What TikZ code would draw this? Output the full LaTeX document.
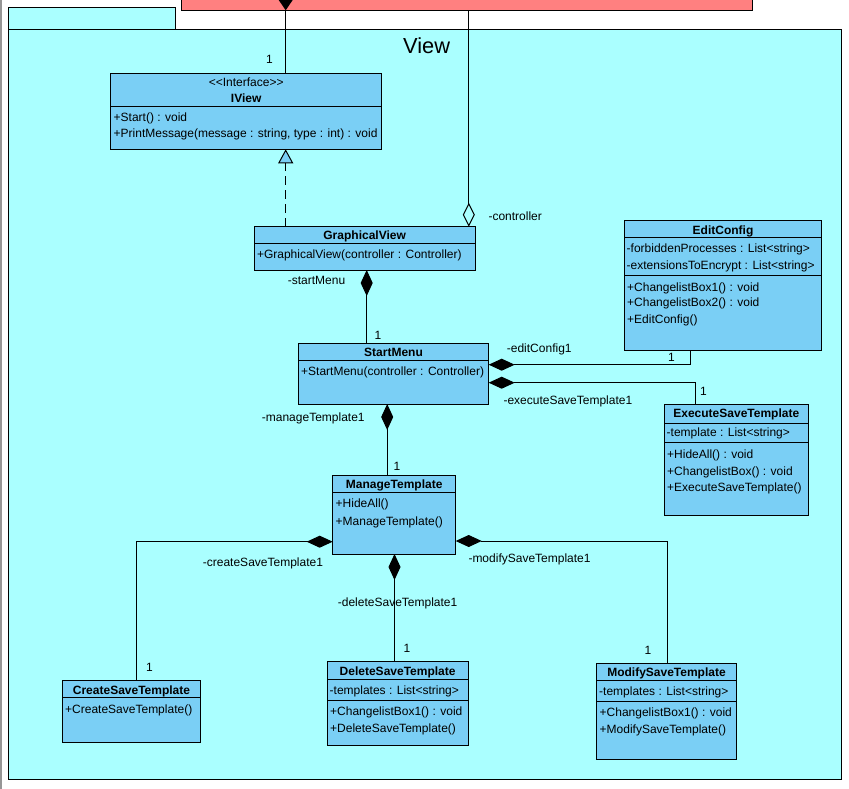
\documentclass[tikz,border=0pt]{standalone}
\usepackage{fontspec}
\setmainfont{Liberation Sans}
\usetikzlibrary{arrows.meta}

\definecolor{pkgfill}{RGB}{170,255,255}
\definecolor{clsfill}{RGB}{122,207,245}
\definecolor{ownerfill}{RGB}{255,128,128}
\definecolor{edgegray}{RGB}{150,150,150}

\tikzset{
  frame/.style={draw, line width=1pt, inner sep=0, outer sep=0},
  clsbox/.style={frame, fill=clsfill},
  mem/.style={anchor=base west, inner sep=0, font=\fontsize{12}{14}\selectfont},
  hdr/.style={anchor=base, inner sep=0, font=\fontsize{12}{14}\selectfont\bfseries},
  stereo/.style={anchor=base, inner sep=0, font=\fontsize{12}{14}\selectfont},
  role/.style={anchor=base west, inner sep=0, font=\fontsize{12}{14}\selectfont},
  link/.style={line width=1pt},
  comp/.style={link, {Diamond[length=26pt,width=12pt]}-},
  aggr/.style={link, {Diamond[open,length=24pt,width=12pt]}-},
  realize/.style={link, dash pattern=on 9pt off 5pt,
    -{Triangle[open,fill=clsfill,length=14pt,width=15pt]}},
}

% class box from its left, top, right and bottom edges
\newcommand\clsnode[5]{%
  \node[clsbox, minimum width={#4-#2}, minimum height={#5-#3}]
    (#1) at ({(#2+#4)/2},{(#3+#5)/2}) {};}
% compartment separator across a class box
\newcommand\clssep[2]{\draw[line width=1pt] (#1.west |- 0,#2) -- (#1.east |- 0,#2);}

\begin{document}
\begin{tikzpicture}[x=1pt,y=-1pt]
\useasboundingbox (0,0) rectangle (849,789);
\fill[edgegray] (0,0) rectangle (2,789);

% owning package above (only its lower edge shows)
\node[frame, fill=ownerfill, minimum width=571, minimum height=40.3]
  (owner) at (466.5,-9.85) {};

% package View
\node[frame, fill=pkgfill, minimum width=167, minimum height=22] (pkgtab) at (91.5,19) {};
\node[frame, fill=pkgfill, minimum width=833.5, minimum height=749] (pkgbody) at (424.75,404.5) {};
\node[anchor=base west, inner sep=0, font=\fontsize{21.8}{24}\selectfont] (pkgname) at (403,53.3) {View};

% IView
\clsnode{iview}{110.7}{73.3}{381.7}{149.3}
\node[stereo] (iview-st) at (246.2,87) {<{}<Interface>{}>};
\node[hdr] (iview-h) at (246.2,102.7) {IView};
\clssep{iview}{106.7}
\node[mem] (iview-o1) at (113.5,122) {+Start() : void};
\node[mem] (iview-o2) at (113.5,138) {+PrintMessage(message : string, type : int) : void};

% GraphicalView
\clsnode{gview}{254}{226.7}{475.3}{270}
\node[hdr] (gview-h) at (364.65,239.3) {GraphicalView};
\clssep{gview}{243.3}
\node[mem] (gview-o1) at (256.8,258.3) {+GraphicalView(controller : Controller)};

% EditConfig
\clsnode{editconfig}{624.3}{220.7}{821.7}{350}
\node[hdr] (ec-h) at (723,234) {EditConfig};
\clssep{editconfig}{237.7}
\node[mem] (ec-a1) at (626.5,252.7) {-forbiddenProcesses : List<string>};
\node[mem] (ec-a2) at (626.5,269) {-extensionsToEncrypt : List<string>};
\clssep{editconfig}{275.7}
\node[mem] (ec-o1) at (627,291) {+ChangelistBox1() : void};
\node[mem] (ec-o2) at (627,306.7) {+ChangelistBox2() : void};
\node[mem] (ec-o3) at (627,323.3) {+EditConfig()};

% StartMenu
\clsnode{startmenu}{298.3}{343.3}{488.7}{404}
\node[hdr] (sm-h) at (393.5,356.7) {StartMenu};
\clssep{startmenu}{360.7}
\node[mem] (sm-o1) at (301,375.7) {+StartMenu(controller : Controller)};

% ExecuteSaveTemplate
\clsnode{execsave}{664.3}{404.3}{808.3}{515}
\node[hdr] (es-h) at (736.3,417.7) {ExecuteSaveTemplate};
\clssep{execsave}{423.3}
\node[mem] (es-a1) at (666.5,436.7) {-template : List<string>};
\clssep{execsave}{442.3}
\node[mem] (es-o1) at (667,458.3) {+HideAll() : void};
\node[mem] (es-o2) at (667,475) {+ChangelistBox() : void};
\node[mem] (es-o3) at (667,491) {+ExecuteSaveTemplate()};

% ManageTemplate
\clsnode{manage}{332.7}{475.3}{455.7}{554}
\node[hdr] (mt-h) at (394.2,488.3) {ManageTemplate};
\clssep{manage}{492.7}
\node[mem] (mt-o1) at (335.5,507.3) {+HideAll()};
\node[mem] (mt-o2) at (335.5,525) {+ManageTemplate()};

% CreateSaveTemplate
\clsnode{create}{62.3}{680.7}{200.7}{742.3}
\node[hdr] (cs-h) at (131.5,694) {CreateSaveTemplate};
\clssep{create}{697.7}
\node[mem] (cs-o1) at (65,713.3) {+CreateSaveTemplate()};

% DeleteSaveTemplate
\clsnode{delete}{327.3}{661.7}{468}{745}
\node[hdr] (ds-h) at (397.65,675.7) {DeleteSaveTemplate};
\clssep{delete}{679.3}
\node[mem] (ds-a1) at (329.5,694) {-templates : List<string>};
\clssep{delete}{700}
\node[mem] (ds-o1) at (330,715.7) {+ChangelistBox1() : void};
\node[mem] (ds-o2) at (330,732.3) {+DeleteSaveTemplate()};

% ModifySaveTemplate
\clsnode{modify}{596.7}{663.3}{736.3}{759}
\node[hdr] (ms-h) at (666.5,676.7) {ModifySaveTemplate};
\clssep{modify}{680.7}
\node[mem] (ms-a1) at (599,695) {-templates : List<string>};
\clssep{modify}{701.3}
\node[mem] (ms-o1) at (599.5,716) {+ChangelistBox1() : void};
\node[mem] (ms-o2) at (599.5,733.3) {+ModifySaveTemplate()};

% owner -- IView composition
\draw[link] (285.7,0 |- iview.north) -- (285.7,0 |- owner.south);
\fill (285.7,0 |- owner.south) -- ++(-7,-10.3) -- ++(7,-10.3) -- ++(7,10.3) -- cycle;
\node[role] (r-iview) at (266,64) {1};

% owner -- GraphicalView aggregation
\draw[aggr] (468.8,0 |- gview.north) -- (468.8,0 |- owner.south);
\node[role] (r-ctrl) at (488.3,220) {-controller};

% GraphicalView realizes IView
\draw[realize] (285.7,0 |- gview.north) -- (285.7,0 |- iview.south);

% GraphicalView -- StartMenu
\draw[comp] (366.7,0 |- gview.south) -- (366.7,0 |- startmenu.north);
\node[role] (r-sm) at (287.7,284.3) {-startMenu};
\node[role] (r-sm1) at (374.5,339.3) {1};

% StartMenu -- EditConfig
\draw[comp] (startmenu.east |- 0,364.7) -- (690.3,364.7) -- (690.3,0 |- editconfig.south);
\node[role] (r-ec) at (506.7,352.7) {-editConfig1};
\node[role] (r-ec1) at (668,361.5) {1};

% StartMenu -- ExecuteSaveTemplate
\draw[comp] (startmenu.east |- 0,382.7) -- (695.7,382.7) -- (695.7,0 |- execsave.north);
\node[role] (r-es) at (503.3,404) {-executeSaveTemplate1};
\node[role] (r-es1) at (700,395) {1};

% StartMenu -- ManageTemplate
\draw[comp] (387.2,0 |- startmenu.south) -- (387.2,0 |- manage.north);
\node[role] (r-mt) at (261.7,421.7) {-manageTemplate1};
\node[role] (r-mt1) at (393.5,470) {1};

% ManageTemplate -- CreateSaveTemplate
\draw[comp] (manage.west |- 0,541.7) -- (136.7,541.7) -- (136.7,0 |- create.north);
\node[role] (r-cs) at (202.7,566) {-createSaveTemplate1};
\node[role] (r-cs1) at (146,671.7) {1};

% ManageTemplate -- DeleteSaveTemplate
\draw[comp] (394.5,0 |- manage.south) -- (394.5,0 |- delete.north);
\node[role] (r-ds) at (337.7,606) {-deleteSaveTemplate1};
\node[role] (r-ds1) at (403.5,652) {1};

% ManageTemplate -- ModifySaveTemplate
\draw[comp] (manage.east |- 0,541) -- (667.3,541) -- (667.3,0 |- modify.north);
\node[role] (r-ms) at (468.3,562.3) {-modifySaveTemplate1};
\node[role] (r-ms1) at (644.5,654) {1};
\end{tikzpicture}
\end{document}
